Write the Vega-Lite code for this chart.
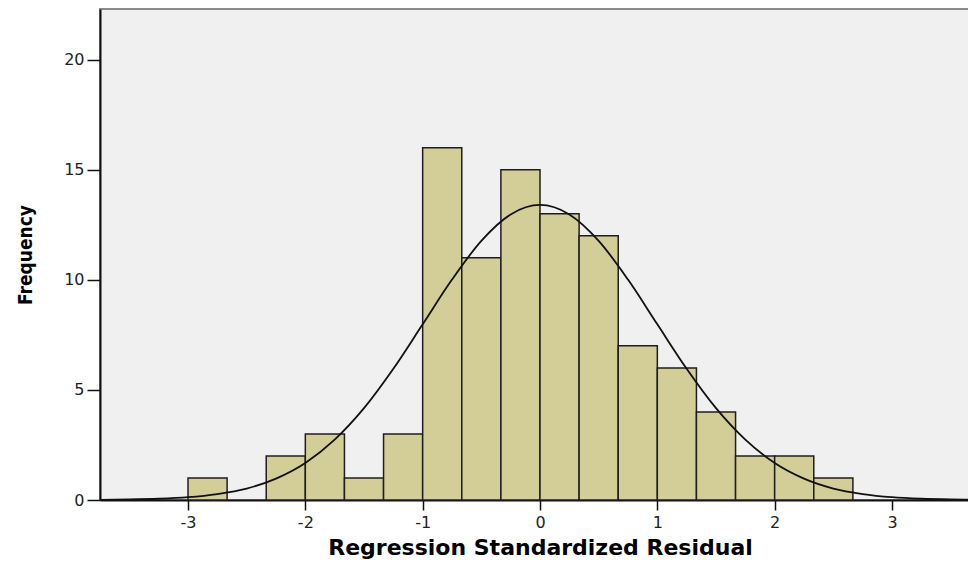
{
  "$schema": "https://vega.github.io/schema/vega-lite/v6.json",
  "autosize": {"type": "none"},
  "padding": {"left": 100, "top": 9, "right": 0, "bottom": 63},
  "width": 880,
  "height": 491,
  "background": "white",
  "title": {
    "text": "Dependent Variable: Yam Residues",
    "font": "DejaVu Sans",
    "fontSize": 22,
    "fontWeight": "bold",
    "color": "#111111",
    "baseline": "alphabetic",
    "offset": 4,
    "dx": 105
  },
  "config": {
    "view": {"fill": "#F0F0F0", "stroke": "#8A8A8A", "strokeWidth": 2},
    "axis": {
      "domainColor": "#111111",
      "domainWidth": 2,
      "tickColor": "#111111",
      "tickWidth": 1.5,
      "grid": false,
      "labelFont": "DejaVu Sans",
      "labelFontSize": 16,
      "labelColor": "#222222",
      "titleColor": "#000000",
      "titleFontWeight": "bold"
    }
  },
  "datasets": {
    "bins": [
      {"start": -3.0, "end": -2.6667, "count": 1},
      {"start": -2.3333, "end": -2.0, "count": 2},
      {"start": -2.0, "end": -1.6667, "count": 3},
      {"start": -1.6667, "end": -1.3333, "count": 1},
      {"start": -1.3333, "end": -1.0, "count": 3},
      {"start": -1.0, "end": -0.6667, "count": 16},
      {"start": -0.6667, "end": -0.3333, "count": 11},
      {"start": -0.3333, "end": 0.0, "count": 15},
      {"start": 0.0, "end": 0.3333, "count": 13},
      {"start": 0.3333, "end": 0.6667, "count": 12},
      {"start": 0.6667, "end": 1.0, "count": 7},
      {"start": 1.0, "end": 1.3333, "count": 6},
      {"start": 1.3333, "end": 1.6667, "count": 4},
      {"start": 1.6667, "end": 2.0, "count": 2},
      {"start": 2.0, "end": 2.3333, "count": 2},
      {"start": 2.3333, "end": 2.6667, "count": 1}
    ],
    "curve": [
      {"x": -3.75, "y": 0.009},
      {"x": -3.5, "y": 0.023},
      {"x": -3.25, "y": 0.056},
      {"x": -3.0, "y": 0.126},
      {"x": -2.75, "y": 0.27},
      {"x": -2.5, "y": 0.52},
      {"x": -2.25, "y": 0.97},
      {"x": -2.0, "y": 1.68},
      {"x": -1.75, "y": 2.74},
      {"x": -1.5, "y": 4.17},
      {"x": -1.25, "y": 5.96},
      {"x": -1.0, "y": 7.98},
      {"x": -0.75, "y": 10.01},
      {"x": -0.5, "y": 11.77},
      {"x": -0.25, "y": 12.97},
      {"x": 0.0, "y": 13.4},
      {"x": 0.25, "y": 12.97},
      {"x": 0.5, "y": 11.77},
      {"x": 0.75, "y": 10.01},
      {"x": 1.0, "y": 7.98},
      {"x": 1.25, "y": 5.96},
      {"x": 1.5, "y": 4.17},
      {"x": 1.75, "y": 2.74},
      {"x": 2.0, "y": 1.68},
      {"x": 2.25, "y": 0.97},
      {"x": 2.5, "y": 0.52},
      {"x": 2.75, "y": 0.27},
      {"x": 3.0, "y": 0.126},
      {"x": 3.25, "y": 0.056},
      {"x": 3.5, "y": 0.023},
      {"x": 3.75, "y": 0.009}
    ]
  },
  "layer": [
    {
      "data": {"name": "bins"},
      "mark": {"type": "rect", "fill": "#D3CE97", "stroke": "#1E1E1E", "strokeWidth": 1.5},
      "encoding": {
        "x": {
          "field": "start",
          "type": "quantitative",
          "scale": {"domain": [-3.75, 3.75], "nice": false, "zero": false},
          "axis": {
            "values": [-3, -2, -1, 0, 1, 2, 3],
            "labelExpr": "datum.value + ''",
            "tickSize": 10,
            "labelPadding": 4,
            "title": "Regression Standardized Residual",
            "titleFont": "DejaVu Sans",
            "titleFontSize": 22,
            "titlePadding": 7
          }
        },
        "x2": {"field": "end"},
        "y": {
          "field": "count",
          "type": "quantitative",
          "scale": {"domain": [0, 22.3], "nice": false},
          "axis": {
            "values": [0, 5, 10, 15, 20],
            "tickSize": 13,
            "labelPadding": 3,
            "title": "Frequency",
            "titleFont": "Liberation Sans Narrow, DejaVu Sans Condensed, Liberation Sans",
            "titleFontSize": 19,
            "titlePadding": 28
          }
        },
        "y2": {"datum": 0}
      }
    },
    {
      "data": {"name": "curve"},
      "mark": {"type": "line", "color": "#111111", "strokeWidth": 1.8, "interpolate": "monotone", "clip": true},
      "encoding": {
        "x": {"field": "x", "type": "quantitative"},
        "y": {"field": "y", "type": "quantitative"}
      }
    }
  ]
}
